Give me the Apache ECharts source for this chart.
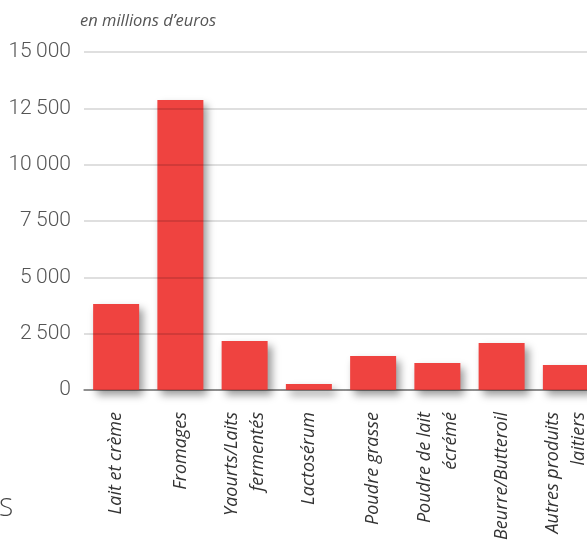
<!DOCTYPE html>
<html><head><meta charset="utf-8">
<script src="https://cdn.jsdelivr.net/npm/echarts@6/dist/echarts.min.js"></script>
<style>html,body{margin:0;padding:0;background:#fff}#c{width:587px;height:544px}</style>
</head><body><div id="c"></div>
<script>
var categories = ['Lait et crème','Fromages','Yaourts/Laits\nfermentés','Lactosérum','Poudre grasse','Poudre de lait\nécrémé','Beurre/Butteroil','Autres produits\nlaitiers'];
var values = [3820, 12870, 2170, 270, 1510, 1200, 2090, 1110];
var yTicks = [0, 2500, 5000, 7500, 10000, 12500, 15000];
var unitLabel = 'en millions d\u2019euros';

function fmt(v){ if (v < 1000) return String(v); var s = String(v); return s.slice(0, s.length-3) + '\u2009' + s.slice(-3); }

var chart = echarts.init(document.getElementById('c'), null, {renderer:'canvas'});
chart.setOption({
  animation:false,
  backgroundColor:'#fff',
  grid:{left:84, top:52, right:-11, bottom:154, containLabel:false, outerBoundsMode:'none'},
  graphic:[
    {type:'text', left:80, top:13, style:{text:unitLabel, font:'italic 16.5px "Open Sans"', fill:'#555'}},
    {type:'text', left:-1, top:496, style:{text:'S', font:'300 26px "Open Sans"', fill:'#444'}}
  ],
  xAxis:{type:'category', data:categories,
    axisLine:{show:true, lineStyle:{color:'#888', width:1.5}},
    axisTick:{show:false},
    axisLabel:{rotate:90, margin:22, interval:0, fontFamily:'Open Sans', fontStyle:'italic', fontSize:18, lineHeight:26, color:'#333'}
  },
  yAxis:{type:'value', min:yTicks[0], max:yTicks[yTicks.length-1], interval:2500, z:5,
    axisLine:{show:false}, axisTick:{show:false},
    splitLine:{show:true, lineStyle:{color:'rgba(0,0,0,0.17)', width:1.5}},
    axisLabel:{margin:13, fontFamily:'Roboto', fontWeight:300, fontSize:21, color:'#555', formatter:fmt}
  },
  series:[{type:'bar', data:values, barWidth:46, z:2,
    itemStyle:{color:'#ef4340', shadowColor:'rgba(0,0,0,0.4)', shadowBlur:8, shadowOffsetX:4, shadowOffsetY:5}
  }]
});
</script></body></html>
